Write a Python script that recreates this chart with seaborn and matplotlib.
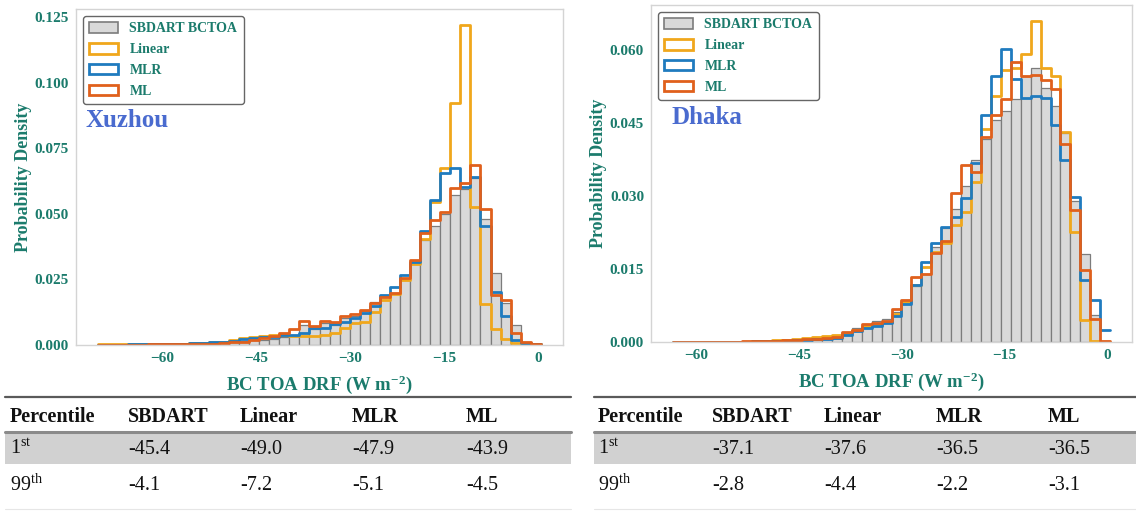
import numpy as np
import pandas as pd
import matplotlib
matplotlib.use("Agg")
import matplotlib.pyplot as plt
from matplotlib.patches import Patch, Rectangle
from matplotlib.lines import Line2D
import seaborn as sns

# ---------------- data ----------------
series_names = ["SBDART BCTOA", "Linear", "MLR", "ML"]
cities = ["Xuzhou", "Dhaka"]

# bin ranges (W m-2) and bin count
xz_range = [-70.25, 0.4]
dk_range = [-63.4, 0.42]
n_bins = 44

# Xuzhou densities per bin
xz_sbdart = [0.0000, 0.0000, 0.0001, 0.0001, 0.0001, 0.0002, 0.0002, 0.0003, 0.0003, 0.0004,
             0.0005, 0.0006, 0.0008, 0.0011, 0.0015, 0.0019, 0.0020, 0.0023, 0.0032, 0.0038,
             0.0076, 0.0060, 0.0083, 0.0076, 0.0102, 0.0111, 0.0131, 0.0165, 0.0187, 0.0197,
             0.0248, 0.0318, 0.0400, 0.0454, 0.0498, 0.0572, 0.0595, 0.0636, 0.0479, 0.0273,
             0.0160, 0.0076, 0.0013, 0.0002]
xz_linear = [0.0002, 0.0002, 0.0002, 0.0002, 0.0003, 0.0003, 0.0004, 0.0004, 0.0005, 0.0006,
             0.0008, 0.0010, 0.0013, 0.0018, 0.0025, 0.0030, 0.0035, 0.0038, 0.0038, 0.0034,
             0.0036, 0.0036, 0.0038, 0.0045, 0.0064, 0.0083, 0.0089, 0.0127, 0.0172, 0.0195,
             0.0248, 0.0310, 0.0403, 0.0547, 0.0674, 0.0924, 0.1220, 0.0525, 0.0156, 0.0060,
             0.0022, 0.0006, 0.0003, 0.0003]
xz_mlr = [0.0001, 0.0001, 0.0001, 0.0002, 0.0002, 0.0003, 0.0003, 0.0004, 0.0005, 0.0006,
          0.0008, 0.0010, 0.0013, 0.0017, 0.0022, 0.0026, 0.0029, 0.0032, 0.0038, 0.0038,
          0.0047, 0.0064, 0.0064, 0.0079, 0.0089, 0.0104, 0.0123, 0.0150, 0.0190, 0.0222,
          0.0267, 0.0315, 0.0435, 0.0553, 0.0657, 0.0674, 0.0604, 0.0642, 0.0454, 0.0201,
          0.0111, 0.0019, 0.0006, 0.0002]
xz_ml = [0.0001, 0.0001, 0.0001, 0.0001, 0.0001, 0.0002, 0.0002, 0.0002, 0.0003, 0.0003,
         0.0004, 0.0005, 0.0007, 0.0010, 0.0013, 0.0019, 0.0026, 0.0034, 0.0047, 0.0060,
         0.0093, 0.0074, 0.0092, 0.0089, 0.0111, 0.0118, 0.0134, 0.0161, 0.0184, 0.0197,
         0.0255, 0.0324, 0.0426, 0.0477, 0.0506, 0.0598, 0.0617, 0.0687, 0.0517, 0.0190,
         0.0172, 0.0045, 0.0010, 0.0002]

# Dhaka densities per bin
dk_sbdart = [0.0000, 0.0000, 0.0000, 0.0001, 0.0001, 0.0001, 0.0001, 0.0001, 0.0002, 0.0002,
             0.0003, 0.0004, 0.0003, 0.0004, 0.0005, 0.0006, 0.0009, 0.0017, 0.0028, 0.0028,
             0.0043, 0.0047, 0.0062, 0.0087, 0.0115, 0.0140, 0.0195, 0.0234, 0.0273, 0.0320,
             0.0374, 0.0418, 0.0457, 0.0475, 0.0499, 0.0546, 0.0564, 0.0523, 0.0486, 0.0429,
             0.0290, 0.0180, 0.0056, 0.0003]
dk_linear = [0.0001, 0.0001, 0.0001, 0.0001, 0.0001, 0.0001, 0.0001, 0.0001, 0.0002, 0.0003,
             0.0004, 0.0005, 0.0006, 0.0008, 0.0010, 0.0012, 0.0014, 0.0019, 0.0024, 0.0032,
             0.0036, 0.0041, 0.0058, 0.0083, 0.0117, 0.0155, 0.0186, 0.0204, 0.0241, 0.0267,
             0.0330, 0.0438, 0.0506, 0.0560, 0.0564, 0.0592, 0.0660, 0.0564, 0.0548, 0.0432,
             0.0227, 0.0045, 0.0003, 0.0000]
dk_mlr = [0.0001, 0.0001, 0.0001, 0.0001, 0.0001, 0.0001, 0.0001, 0.0001, 0.0002, 0.0002,
          0.0003, 0.0003, 0.0004, 0.0005, 0.0006, 0.0007, 0.0009, 0.0014, 0.0022, 0.0028,
          0.0033, 0.0040, 0.0053, 0.0079, 0.0117, 0.0165, 0.0203, 0.0237, 0.0258, 0.0296,
          0.0368, 0.0466, 0.0548, 0.0603, 0.0540, 0.0502, 0.0506, 0.0502, 0.0446, 0.0375,
          0.0298, 0.0127, 0.0087, 0.0024]
dk_ml = [0.0001, 0.0001, 0.0001, 0.0001, 0.0001, 0.0001, 0.0001, 0.0002, 0.0002, 0.0003,
         0.0003, 0.0004, 0.0005, 0.0006, 0.0007, 0.0008, 0.0010, 0.0021, 0.0024, 0.0038,
         0.0039, 0.0043, 0.0067, 0.0086, 0.0133, 0.0140, 0.0184, 0.0208, 0.0306, 0.0365,
         0.0349, 0.0422, 0.0466, 0.0499, 0.0576, 0.0547, 0.0550, 0.0538, 0.0520, 0.0408,
         0.0272, 0.0149, 0.0048, 0.0003]

xz_yticks = [0.000, 0.025, 0.050, 0.075, 0.100, 0.125]
dk_yticks = [0.000, 0.015, 0.030, 0.045, 0.060]
xticks = [-60, -45, -30, -15, 0]

# percentile table
table_header = ["Percentile", "SBDART", "Linear", "MLR", "ML"]
table_rows = [r"1$^{\mathrm{st}}$", r"99$^{\mathrm{th}}$"]
xz_table = [["-45.4", "-49.0", "-47.9", "-43.9"],
            ["-4.1", "-7.2", "-5.1", "-4.5"]]
dk_table = [["-37.1", "-37.6", "-36.5", "-36.5"],
            ["-2.8", "-4.4", "-2.2", "-3.1"]]

# ---------------- style ----------------
sns.set_style("white")
plt.rcParams["font.family"] = ["Liberation Serif", "DejaVu Serif"]
plt.rcParams["mathtext.fontset"] = "custom"
plt.rcParams["mathtext.rm"] = "Liberation Serif"
plt.rcParams["mathtext.bf"] = "Liberation Serif:bold"
plt.rcParams["mathtext.it"] = "Liberation Serif:italic"

TEAL = "#1b7b6c"
CITY_BLUE = "#4a6bcf"
C_GRAY_FILL = "#d9d9d9"
C_GRAY_EDGE = "#7c7c7c"
C_LIN = "#f0a71c"
C_MLR = "#1f7bbf"
C_ML = "#e0601c"

W, H = 1136, 512
fig = plt.figure(figsize=(W / 100, H / 100), dpi=100)


def px_axes(l, t, r, b):
    return fig.add_axes([l / W, 1 - b / H, (r - l) / W, (b - t) / H])


def draw_panel(ax, rng, gray, lin, mlr, ml, yticks, city, city_xy, leg_xy):
    edges = np.linspace(rng[0], rng[1], n_bins + 1)
    centers = 0.5 * (edges[:-1] + edges[1:])
    bins = [float(e) for e in edges]
    df = pd.DataFrame({"x": centers, "gray": gray, "lin": lin, "mlr": mlr, "ml": ml})
    sns.histplot(data=df, x="x", weights="gray", bins=bins, stat="count", element="bars",
                 fill=True, color=C_GRAY_FILL, edgecolor=C_GRAY_EDGE, linewidth=0.9,
                 alpha=1, ax=ax)
    for col_name, col in [("lin", C_LIN), ("mlr", C_MLR), ("ml", C_ML)]:
        sns.histplot(data=df, x="x", weights=col_name, bins=bins, stat="count",
                     element="step", fill=False, color=col, linewidth=2.0, ax=ax)
    span = rng[1] - rng[0]
    ax.set_xlim(rng[0] - 0.05 * span, rng[1] + 0.05 * span)
    ymax = max(max(gray), max(lin), max(mlr), max(ml))
    ax.set_ylim(0, ymax * 1.05)
    ax.set_xticks(xticks)
    ax.set_yticks(yticks)
    ax.set_yticklabels([f"{v:.3f}" for v in yticks])
    ax.tick_params(axis="both", length=0, pad=5, labelsize=11, labelcolor=TEAL)
    for lab in ax.get_xticklabels() + ax.get_yticklabels():
        lab.set_fontweight("bold")
    for s in ax.spines.values():
        s.set_color("#d4d4d4")
        s.set_linewidth(1.0)
    ax.set_xlabel(r"BC TOA DRF (W m$^{\mathbf{-2}}$)", fontsize=13.5, fontweight="bold",
                  color=TEAL, labelpad=6)
    ax.set_ylabel("Probability Density", fontsize=13, fontweight="bold", color=TEAL,
                  labelpad=2)
    handles = [Patch(facecolor=C_GRAY_FILL, edgecolor=C_GRAY_EDGE, linewidth=1.2),
               Patch(facecolor="none", edgecolor=C_LIN, linewidth=2),
               Patch(facecolor="none", edgecolor=C_MLR, linewidth=2),
               Patch(facecolor="none", edgecolor=C_ML, linewidth=2)]
    leg = ax.legend(handles, series_names, loc="upper left", bbox_to_anchor=leg_xy,
                    frameon=True, fancybox=True, framealpha=1, edgecolor="#666666",
                    prop={"family": "Liberation Serif", "weight": "bold", "size": 10},
                    labelcolor=TEAL, handlelength=2.1, handleheight=0.8,
                    handletextpad=0.8, labelspacing=0.55, borderpad=0.45)
    leg.get_frame().set_linewidth(1.0)
    ax.text(city_xy[0], city_xy[1], city, transform=ax.transAxes, fontsize=18,
            fontweight="bold", color=CITY_BLUE, ha="left", va="center")


ax1 = px_axes(76, 9, 563, 345)
draw_panel(ax1, xz_range, xz_sbdart, xz_linear, xz_mlr, xz_ml, xz_yticks,
           cities[0], (0.02, 0.668), (0.0, 1.0))
ax2 = px_axes(651, 5, 1132, 342)
draw_panel(ax2, dk_range, dk_sbdart, dk_linear, dk_mlr, dk_ml, dk_yticks,
           cities[1], (0.042, 0.665), (0.0, 1.0))

# ---------------- tables ----------------
def fig_line(x0, x1, y, lw, color):
    fig.add_artist(Line2D([x0 / W, x1 / W], [1 - y / H, 1 - y / H], color=color,
                          linewidth=lw, transform=fig.transFigure))


def draw_table(x0, x1, col_x, vals):
    fig.add_artist(Rectangle((x0 / W, 1 - 464 / H), (x1 - x0) / W, 31 / H,
                             facecolor="#d1d1d1", edgecolor="none",
                             transform=fig.transFigure))
    fig_line(x0, x1, 397, 1.6, "#5a5a5a")
    fig_line(x0, x1, 432, 2.2, "#8a8a8a")
    fig_line(x0, x1, 509, 0.8, "#e6e6e6")
    for cx, h in zip(col_x, table_header):
        fig.text(cx / W, 1 - 417 / H, h, fontsize=14.5, fontweight="bold",
                 color="#111111", ha="left", va="center")
    for ry, rl, rv in zip([449, 485], table_rows, vals):
        fig.text(col_x[0] / W, 1 - ry / H, rl, fontsize=14.5, color="#111111",
                 ha="left", va="center")
        for cx, v in zip(col_x[1:], rv):
            fig.text(cx / W, 1 - ry / H, v, fontsize=14.5, color="#111111",
                     ha="left", va="center")


draw_table(5, 571, [10, 128, 240, 352, 466], xz_table)
draw_table(594, 1136, [598, 712, 824, 936, 1048], dk_table)

fig.savefig("out.png", dpi=100)
